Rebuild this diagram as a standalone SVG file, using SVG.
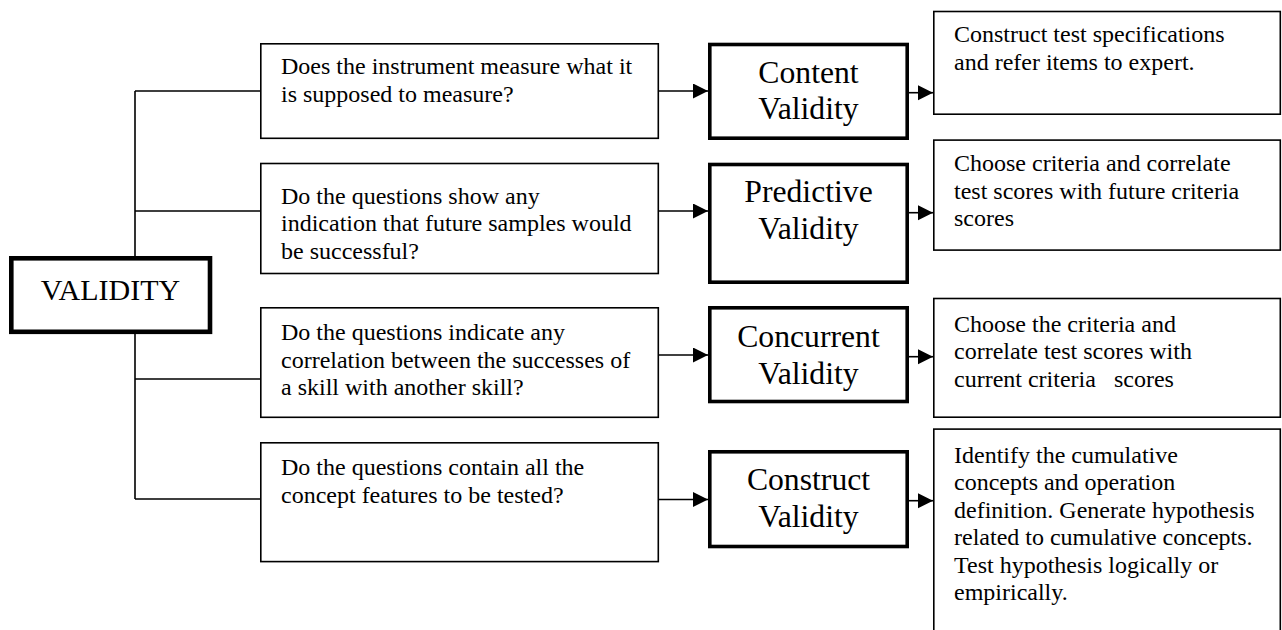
<svg xmlns="http://www.w3.org/2000/svg" width="1282" height="630" viewBox="0 0 1282 630">
  <style>
    text { font-family: "Liberation Serif", "Times New Roman", serif; fill: #000; }
    .q { font-size: 24px; }
    .r { font-size: 24px; }
    .v { font-size: 31.7px; text-anchor: middle; }
    .root { font-size: 30px; text-anchor: middle; }
    .thin { fill: #fff; stroke: #000; stroke-width: 1.6; }
    .heavy { fill: #fff; stroke: #000; stroke-width: 3.6; }
    .rootbox { fill: #fff; stroke: #000; stroke-width: 4.6; }
    .link { fill: none; stroke: #000; stroke-width: 1.6; }
    .arrow { fill: none; stroke: #000; stroke-width: 1.6; marker-end: url(#head); }
  </style>
  <defs>
    <marker id="head" markerUnits="userSpaceOnUse" markerWidth="16" markerHeight="16" refX="15" refY="7.5" orient="auto">
      <path d="M0,0 L15,7.5 L0,15 Z" fill="#000"/>
    </marker>
  </defs>
  <rect width="1282" height="630" fill="#fff"/>

  <!-- connectors -->
  <g id="connectors">
    <path class="link" d="M135,91 V499 M135,91 H260 M135,211 H260 M135,379 H260 M135,499 H260"/>
    <line class="arrow" x1="659" y1="91" x2="708" y2="91"/>
    <line class="arrow" x1="659" y1="211" x2="708" y2="211"/>
    <line class="arrow" x1="659" y1="355" x2="708" y2="355"/>
    <line class="arrow" x1="659" y1="499.5" x2="708" y2="499.5"/>
    <line class="arrow" x1="909" y1="92.7" x2="933" y2="92.7"/>
    <line class="arrow" x1="909" y1="212.7" x2="933" y2="212.7"/>
    <line class="arrow" x1="909" y1="356.7" x2="933" y2="356.7"/>
    <line class="arrow" x1="909" y1="500.7" x2="933" y2="500.7"/>
  </g>

  <!-- root -->
  <g id="validity">
    <rect class="rootbox" x="11.3" y="258.3" width="198.7" height="73.5"/>
    <text class="root" x="110.5" y="300">VALIDITY</text>
  </g>

  <!-- questions -->
  <g id="q-content">
    <rect class="thin" x="260.8" y="43.8" width="397.5" height="94.5"/>
    <text class="q" x="281" y="74">Does the instrument measure what it</text>
    <text class="q" x="281" y="102">is supposed to measure?</text>
  </g>
  <g id="q-predictive">
    <rect class="thin" x="260.8" y="163.5" width="397.5" height="110"/>
    <text class="q" x="281" y="203.5">Do the questions show any</text>
    <text class="q" x="281" y="231">indication that future samples would</text>
    <text class="q" x="281" y="258.5">be successful?</text>
  </g>
  <g id="q-concurrent">
    <rect class="thin" x="260.8" y="307.8" width="397.5" height="109.5"/>
    <text class="q" x="281" y="340">Do the questions indicate any</text>
    <text class="q" x="281" y="367.5">correlation between the successes of</text>
    <text class="q" x="281" y="395">a skill with another skill?</text>
  </g>
  <g id="q-construct">
    <rect class="thin" x="260.8" y="442.8" width="397.5" height="118.8"/>
    <text class="q" x="281" y="475">Do the questions contain all the</text>
    <text class="q" x="281" y="502.5">concept features to be tested?</text>
  </g>

  <!-- validity types -->
  <g id="content-validity">
    <rect class="heavy" x="709.8" y="44.5" width="197.4" height="93.7"/>
    <text class="v" x="808.5" y="83">Content</text>
    <text class="v" x="808.5" y="119">Validity</text>
  </g>
  <g id="predictive-validity">
    <rect class="heavy" x="709.8" y="164.5" width="197.4" height="117.7"/>
    <text class="v" x="808.5" y="202">Predictive</text>
    <text class="v" x="808.5" y="239">Validity</text>
  </g>
  <g id="concurrent-validity">
    <rect class="heavy" x="709.8" y="307.8" width="197.4" height="93.7"/>
    <text class="v" x="808.5" y="346.7">Concurrent</text>
    <text class="v" x="808.5" y="384">Validity</text>
  </g>
  <g id="construct-validity">
    <rect class="heavy" x="709.8" y="451.8" width="197.4" height="94.7"/>
    <text class="v" x="808.5" y="490">Construct</text>
    <text class="v" x="808.5" y="527">Validity</text>
  </g>

  <!-- procedures -->
  <g id="proc-content">
    <rect class="thin" x="933.8" y="11.5" width="346.5" height="102.7"/>
    <text class="r" x="954" y="42">Construct test specifications</text>
    <text class="r" x="954" y="69.5">and refer items to expert.</text>
  </g>
  <g id="proc-predictive">
    <rect class="thin" x="933.8" y="140.1" width="346.5" height="110"/>
    <text class="r" x="954" y="171">Choose criteria and correlate</text>
    <text class="r" x="954" y="198.5">test scores with future criteria</text>
    <text class="r" x="954" y="226">scores</text>
  </g>
  <g id="proc-concurrent">
    <rect class="thin" x="933.8" y="298.5" width="346.5" height="118.7"/>
    <text class="r" x="954" y="331.7">Choose the criteria and</text>
    <text class="r" x="954" y="359.2">correlate test scores with</text>
    <text class="r" x="954" y="386.7" xml:space="preserve">current criteria   scores</text>
  </g>
  <g id="proc-construct">
    <rect class="thin" x="933.8" y="429.1" width="346.5" height="260"/>
    <text class="r" x="954" y="462.5">Identify the cumulative</text>
    <text class="r" x="954" y="490">concepts and operation</text>
    <text class="r" x="954" y="517.5">definition. Generate hypothesis</text>
    <text class="r" x="954" y="545">related to cumulative concepts.</text>
    <text class="r" x="954" y="572.5">Test hypothesis logically or</text>
    <text class="r" x="954" y="600">empirically.</text>
  </g>
</svg>
